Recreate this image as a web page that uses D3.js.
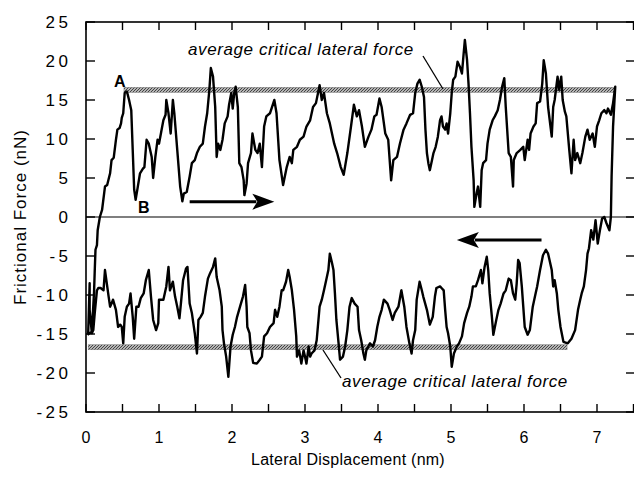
<!DOCTYPE html>
<html>
<head>
<meta charset="utf-8">
<script src="https://cdn.jsdelivr.net/npm/d3@7"></script>
<style>
  body { margin: 0; background: #fff; }
  svg { display: block; font-family: "Liberation Sans", Arial, sans-serif; }
</style>
</head>
<body>
<svg id="chart" width="634" height="478"></svg>
<script>
var W = 634, H = 478;

// forward scan (left -> right), [displacement nm, force nN]
var forwardTrace = [[0.02,-15.1],[0.08,-14.7],[0.11,-9.7],[0.12,-6.8],[0.13,-4.2],[0.15,-3.6],[0.16,-1.7],[0.19,0],[0.22,0.9],[0.26,3.9],[0.29,4.1],[0.33,5.6],[0.35,7.3],[0.38,7.6],[0.41,9.9],[0.43,11.2],[0.46,11.4],[0.48,12.0],[0.49,12.7],[0.51,13.3],[0.53,15.9],[0.56,16.1],[0.59,15.0],[0.62,13.7],[0.64,8.6],[0.66,3.5],[0.68,2.2],[0.71,3.9],[0.74,5.6],[0.78,6.2],[0.80,6.4],[0.83,9.9],[0.86,9.4],[0.90,7.7],[0.92,5.0],[0.95,7.7],[0.98,9.9],[1.00,9.4],[1.03,10.9],[1.06,12.4],[1.09,13.1],[1.10,15.0],[1.13,13.3],[1.16,10.7],[1.19,15.0],[1.21,13.3],[1.25,8.6],[1.29,3.9],[1.32,2.0],[1.34,3.0],[1.38,3.2],[1.42,5.2],[1.45,6.9],[1.49,7.3],[1.52,8.2],[1.56,9.0],[1.60,9.4],[1.63,11.6],[1.66,13.3],[1.69,16.3],[1.71,19.1],[1.74,18.0],[1.77,14.1],[1.79,7.7],[1.81,9.4],[1.84,8.6],[1.87,9.9],[1.90,12.0],[1.94,12.9],[1.96,14.4],[1.99,15.9],[2.01,13.9],[2.03,15.9],[2.05,16.7],[2.08,14.1],[2.10,6.9],[2.13,6.4],[2.16,4.7],[2.17,2.8],[2.20,4.3],[2.22,6.9],[2.26,8.2],[2.28,10.7],[2.32,8.6],[2.35,8.2],[2.38,9.4],[2.41,6.4],[2.44,11.6],[2.47,12.9],[2.52,13.3],[2.58,15.0],[2.61,13.3],[2.65,7.3],[2.70,4.1],[2.75,6.4],[2.79,7.7],[2.82,6.9],[2.84,8.6],[2.89,9.0],[2.93,9.9],[2.98,10.3],[3.02,11.6],[3.07,12.4],[3.11,14.1],[3.15,14.6],[3.20,16.9],[3.23,15.0],[3.26,15.9],[3.30,13.3],[3.34,12.0],[3.40,9.4],[3.44,8.2],[3.49,6.4],[3.53,5.4],[3.58,8.2],[3.63,11.6],[3.67,14.4],[3.71,12.9],[3.74,13.7],[3.78,11.6],[3.82,9.0],[3.87,10.3],[3.91,11.2],[3.95,12.9],[3.98,13.1],[4.02,15.2],[4.05,14.1],[4.10,10.7],[4.14,9.9],[4.18,4.7],[4.21,7.3],[4.26,7.7],[4.30,9.4],[4.35,11.2],[4.39,12.0],[4.44,13.1],[4.48,13.3],[4.51,15.9],[4.54,17.1],[4.57,17.6],[4.60,16.7],[4.63,15.4],[4.65,11.2],[4.67,8.2],[4.69,6.9],[4.71,6.0],[4.74,7.3],[4.76,8.2],[4.79,9.0],[4.82,10.3],[4.85,12.4],[4.87,12.9],[4.89,11.6],[4.92,11.2],[4.94,12.0],[4.96,10.7],[4.99,13.3],[5.01,15.9],[5.03,17.6],[5.06,18.0],[5.09,19.9],[5.12,19.3],[5.15,18.4],[5.17,20.6],[5.19,22.7],[5.22,20.1],[5.24,17.1],[5.26,13.3],[5.28,9.0],[5.31,4.7],[5.32,1.3],[5.35,3.0],[5.37,3.9],[5.40,1.3],[5.42,6.0],[5.44,6.9],[5.48,7.3],[5.50,9.4],[5.53,11.2],[5.57,12.4],[5.60,12.9],[5.64,13.7],[5.67,15.0],[5.70,16.7],[5.73,17.8],[5.75,14.1],[5.79,8.2],[5.82,7.7],[5.85,3.9],[5.86,7.3],[5.90,8.2],[5.95,8.6],[5.99,9.0],[6.01,7.3],[6.05,9.9],[6.07,8.6],[6.09,10.7],[6.13,11.6],[6.16,12.0],[6.18,14.6],[6.22,14.8],[6.25,17.1],[6.27,20.1],[6.30,18.4],[6.33,14.1],[6.38,10.3],[6.40,14.1],[6.42,15.0],[6.46,18.0],[6.48,16.3],[6.51,18.0],[6.53,15.0],[6.56,13.5],[6.58,12.9],[6.62,8.6],[6.65,5.6],[6.68,9.9],[6.70,7.3],[6.73,8.2],[6.77,6.9],[6.80,8.2],[6.84,10.3],[6.87,11.2],[6.90,9.9],[6.94,10.7],[6.97,9.0],[7.00,11.6],[7.03,12.4],[7.06,13.3],[7.10,13.7],[7.13,13.3],[7.15,13.9],[7.19,13.1],[7.22,14.6],[7.25,16.7],[7.22,11.6],[7.20,5.2],[7.19,0.0],[7.17,-1.7]];

// reverse scan (right -> left)
var reverseTrace = [[7.13,-0.8],[7.10,0.0],[7.07,-0.2],[7.04,-1.7],[7.01,-3.4],[6.98,-0.4],[6.95,-2.9],[6.92,-1.7],[6.89,-4.0],[6.87,-4.7],[6.85,-6.8],[6.82,-8.9],[6.79,-9.8],[6.77,-10.6],[6.74,-11.9],[6.70,-14.5],[6.65,-15.6],[6.60,-16.2],[6.54,-16.0],[6.50,-14.1],[6.47,-11.9],[6.45,-9.8],[6.42,-8.1],[6.40,-8.9],[6.38,-6.8],[6.33,-4.7],[6.30,-4.2],[6.26,-4.9],[6.22,-6.8],[6.18,-8.9],[6.15,-10.2],[6.12,-11.5],[6.08,-14.5],[6.05,-15.1],[6.01,-14.1],[5.99,-11.5],[5.97,-8.9],[5.94,-5.9],[5.92,-5.5],[5.90,-8.5],[5.88,-10.6],[5.85,-9.8],[5.82,-8.1],[5.79,-7.9],[5.75,-9.4],[5.72,-9.8],[5.68,-11.1],[5.65,-11.9],[5.62,-13.2],[5.58,-15.1],[5.56,-12.8],[5.53,-9.8],[5.51,-6.8],[5.49,-5.1],[5.46,-6.4],[5.43,-8.5],[5.41,-6.8],[5.37,-8.1],[5.34,-8.9],[5.30,-8.9],[5.28,-10.2],[5.25,-11.5],[5.22,-12.3],[5.18,-13.6],[5.15,-15.3],[5.11,-16.2],[5.08,-16.6],[5.04,-17.5],[5.01,-19.2],[4.99,-16.6],[4.96,-14.9],[4.94,-14.1],[4.92,-11.9],[4.90,-9.4],[4.87,-9.1],[4.85,-8.9],[4.80,-9.1],[4.78,-10.2],[4.75,-12.8],[4.71,-13.8],[4.67,-11.9],[4.62,-10.2],[4.60,-9.4],[4.57,-8.3],[4.53,-10.6],[4.51,-14.5],[4.48,-15.8],[4.46,-17.5],[4.43,-16.2],[4.39,-14.1],[4.36,-11.5],[4.32,-9.4],[4.28,-11.5],[4.23,-12.3],[4.20,-13.2],[4.16,-11.9],[4.13,-11.1],[4.08,-10.6],[4.05,-11.9],[4.02,-12.8],[3.99,-14.1],[3.96,-15.8],[3.93,-16.6],[3.89,-16.2],[3.84,-17.1],[3.82,-18.3],[3.80,-17.5],[3.77,-15.8],[3.74,-14.5],[3.72,-11.5],[3.68,-11.1],[3.64,-10.4],[3.61,-11.5],[3.58,-14.5],[3.55,-16.6],[3.52,-17.9],[3.48,-18.3],[3.46,-16.2],[3.43,-13.2],[3.41,-9.8],[3.39,-6.8],[3.37,-5.9],[3.34,-4.7],[3.32,-6.8],[3.29,-8.1],[3.26,-9.4],[3.23,-10.6],[3.20,-11.5],[3.16,-15.8],[3.13,-17.1],[3.09,-17.5],[3.07,-17.9],[3.05,-16.6],[3.02,-18.8],[3.00,-17.9],[2.98,-17.1],[2.95,-18.8],[2.92,-17.1],[2.89,-17.9],[2.88,-15.3],[2.85,-11.9],[2.82,-9.4],[2.79,-7.7],[2.77,-6.8],[2.74,-8.3],[2.70,-9.4],[2.68,-9.4],[2.65,-11.5],[2.62,-12.8],[2.59,-11.9],[2.57,-13.6],[2.52,-14.1],[2.48,-14.9],[2.44,-15.3],[2.41,-17.9],[2.38,-18.3],[2.34,-18.8],[2.29,-18.7],[2.26,-17.1],[2.24,-14.9],[2.21,-14.1],[2.20,-11.5],[2.18,-8.7],[2.15,-10.2],[2.11,-11.5],[2.07,-12.8],[2.04,-14.1],[2.01,-15.1],[1.98,-16.6],[1.95,-20.5],[1.92,-17.9],[1.89,-16.2],[1.87,-14.5],[1.86,-11.5],[1.83,-9.4],[1.79,-7.7],[1.77,-5.3],[1.74,-6.4],[1.70,-7.2],[1.67,-7.9],[1.63,-10.2],[1.60,-12.3],[1.57,-12.8],[1.54,-13.2],[1.52,-17.5],[1.49,-14.9],[1.47,-13.6],[1.45,-12.3],[1.42,-11.1],[1.39,-6.4],[1.37,-6.6],[1.33,-8.1],[1.30,-11.1],[1.28,-13.0],[1.25,-11.5],[1.22,-10.2],[1.19,-8.3],[1.15,-9.4],[1.13,-6.4],[1.10,-8.9],[1.06,-10.6],[1.04,-10.6],[1.00,-10.6],[0.99,-13.6],[0.96,-14.5],[0.92,-13.2],[0.89,-10.2],[0.86,-6.8],[0.82,-8.1],[0.79,-9.8],[0.75,-10.4],[0.72,-11.5],[0.69,-11.5],[0.66,-15.6],[0.64,-12.8],[0.61,-9.8],[0.59,-11.1],[0.56,-11.5],[0.53,-12.8],[0.51,-16.2],[0.49,-14.1],[0.47,-13.8],[0.44,-14.1],[0.41,-11.9],[0.37,-10.6],[0.35,-11.1],[0.33,-11.5],[0.31,-10.2],[0.26,-6.8],[0.24,-9.4],[0.20,-9.1],[0.17,-9.1],[0.15,-9.4],[0.12,-12.3],[0.10,-14.5],[0.08,-14.9],[0.05,-11.9],[0.05,-8.5],[0.03,-14.9]];

// average critical lateral force bars: [x start, x end, force]
var criticalForward = [0.52, 7.25, 16.3];
var criticalReverse = [0.03, 6.59, -16.7];

var xTickValues = [0, 1, 2, 3, 4, 5, 6, 7];
var xMinorTicks = d3.range(0, 7.51, 0.5);
var yTickValues = [-25, -20, -15, -10, -5, 0, 5, 10, 15, 20, 25];

// scan direction arrows: [x from, x to, y]
var arrowForward = [1.42, 2.58, 1.96];
var arrowReverse = [6.24, 5.08, -2.95];

var xScale = d3.scaleLinear().domain([0, 7.5]).range([86, 633.5]);
var yScale = d3.scaleLinear().domain([-25, 25]).range([412, 22]);

var svg = d3.select("#chart");

//////// hatched fill for the critical force bars
var defs = svg.append("defs");
var pat = defs.append("pattern")
	.attr("id", "hatch")
	.attr("patternUnits", "userSpaceOnUse")
	.attr("width", 3)
	.attr("height", 3);
pat.append("rect").attr("width", 3).attr("height", 3).attr("fill", "#b4b4b4");
pat.append("path").attr("d", "M0,3 L3,0 M-1,1 L1,-1 M2,4 L4,2").attr("stroke", "#444").attr("stroke-width", 1);

//////// frame
var x0 = xScale(0), x1 = xScale(7.5) + 2, yTop = yScale(25), yBot = yScale(-25);

svg.append("rect")
	.attr("x", x0).attr("y", yTop)
	.attr("width", x1 - x0).attr("height", yBot - yTop)
	.attr("fill", "none")
	.attr("stroke", "#000")
	.attr("stroke-width", 1.6);

// zero line
svg.append("line")
	.attr("x1", x0).attr("x2", x1)
	.attr("y1", yScale(0)).attr("y2", yScale(0))
	.attr("stroke", "#000").attr("stroke-width", 1.1);

// ticks: inward on all four sides
var tickG = svg.append("g").attr("stroke", "#000").attr("stroke-width", 1.4);

xMinorTicks.forEach(function(v) {
	var px = xScale(v);
	tickG.append("line").attr("x1", px).attr("x2", px).attr("y1", yTop).attr("y2", yTop + 8);
	tickG.append("line").attr("x1", px).attr("x2", px).attr("y1", yBot).attr("y2", yBot - 8);
});

yTickValues.forEach(function(v) {
	var py = yScale(v);
	tickG.append("line").attr("x1", x0).attr("x2", x0 + 9).attr("y1", py).attr("y2", py);
	tickG.append("line").attr("x1", 634).attr("x2", 626).attr("y1", py).attr("y2", py);
});

// tick labels
svg.append("g").selectAll("text")
	.data(xTickValues)
	.join("text")
	.attr("x", d => xScale(d))
	.attr("y", 443)
	.attr("text-anchor", "middle")
	.attr("font-size", 16)
	.text(d => d);

svg.append("g").selectAll("text")
	.data(yTickValues)
	.join("text")
	.attr("x", 71.5)
	.attr("y", d => yScale(d) + 6)
	.attr("text-anchor", "end")
	.attr("font-size", 17)
	.attr("letter-spacing", 3.5)
	.text(d => d);

// axis titles
svg.append("text")
	.attr("x", 348)
	.attr("y", 465)
	.attr("text-anchor", "middle")
	.attr("font-size", 16)
	.attr("letter-spacing", 0.25)
	.text("Lateral Displacement (nm)");

svg.append("text")
	.attr("transform", "translate(26," + 217 + ") rotate(-90)")
	.attr("text-anchor", "middle")
	.attr("font-size", 17)
	.attr("letter-spacing", 1)
	.attr("fill", "#000")
	.style("opacity", 0.99)
	.text("Frictional Force (nN)");

//////// critical force bars
[criticalForward, criticalReverse].forEach(function(b) {
	svg.append("rect")
		.attr("x", xScale(b[0]))
		.attr("y", yScale(b[2]) - 2.5)
		.attr("width", xScale(b[1]) - xScale(b[0]))
		.attr("height", 5)
		.attr("fill", "url(#hatch)")
		.attr("stroke", "#777")
		.attr("stroke-width", 0.5);
});

//////// friction loop
var line = d3.line()
	.x(d => xScale(d[0]))
	.y(d => yScale(d[1]));

svg.append("path")
	.datum(forwardTrace.concat(reverseTrace))
	.attr("d", line)
	.attr("fill", "none")
	.attr("stroke", "#000")
	.attr("stroke-width", 2.4)
	.attr("stroke-linejoin", "round");

//////// arrows
function drawArrow(a) {
	var xa = xScale(a[0]), xb = xScale(a[1]), py = yScale(a[2]);
	var dir = xb > xa ? 1 : -1;
	svg.append("line")
		.attr("x1", xa).attr("x2", xb - dir * 18)
		.attr("y1", py).attr("y2", py)
		.attr("stroke", "#000").attr("stroke-width", 3);
	svg.append("path")
		.attr("d", "M" + xb + "," + py + " L" + (xb - dir * 22) + "," + (py - 8) + " L" + (xb - dir * 17) + "," + py + " L" + (xb - dir * 22) + "," + (py + 8) + " Z")
		.attr("fill", "#000");
}
drawArrow(arrowForward);
drawArrow(arrowReverse);

//////// annotations
svg.append("text").attr("x", 114).attr("y", 87).attr("font-size", 16).attr("font-weight", "bold").text("A");
svg.append("text").attr("x", 138).attr("y", 213).attr("font-size", 16).attr("font-weight", "bold").text("B");

svg.append("text")
	.attr("x", 188).attr("y", 55)
	.attr("font-size", 17).attr("font-style", "italic")
	.attr("letter-spacing", 0.6)
	.text("average critical lateral force");
svg.append("line")
	.attr("x1", 423).attr("y1", 56).attr("x2", 443).attr("y2", 89)
	.attr("stroke", "#000").attr("stroke-width", 1.3);

svg.append("text")
	.attr("x", 342).attr("y", 387)
	.attr("font-size", 17).attr("font-style", "italic")
	.attr("letter-spacing", 0.6)
	.text("average critical lateral force");
svg.append("line")
	.attr("x1", 323).attr("y1", 350).attr("x2", 341).attr("y2", 378)
	.attr("stroke", "#000").attr("stroke-width", 1.3);
</script>
</body>
</html>
